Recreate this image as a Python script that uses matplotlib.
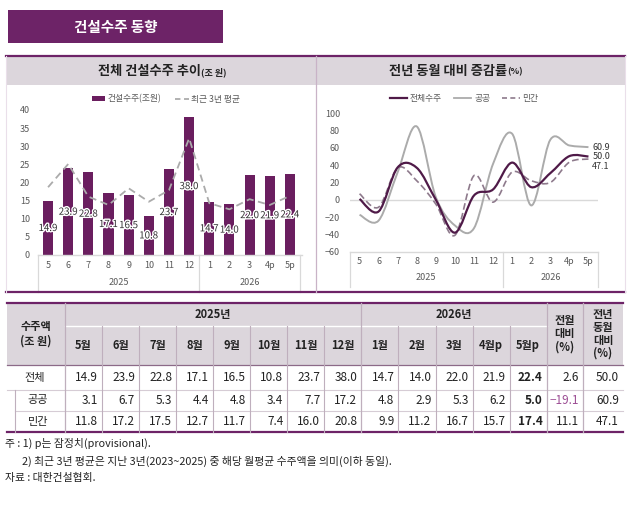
import numpy as np
import matplotlib
matplotlib.use("Agg")
import matplotlib.pyplot as plt
from matplotlib.patches import Rectangle, Patch, PathPatch
from matplotlib.lines import Line2D
from matplotlib.path import Path
import matplotlib.patheffects as pe

plt.rcParams["font.family"] = ["Noto Sans CJK KR", "DejaVu Sans"]
plt.rcParams["axes.unicode_minus"] = True

# ---- data ----
months = ["5", "6", "7", "8", "9", "10", "11", "12", "1", "2", "3", "4p", "5p"]
years = ["2025", "2026"]
total = [14.9, 23.9, 22.8, 17.1, 16.5, 10.8, 23.7, 38.0, 14.7, 14.0, 22.0, 21.9, 22.4]
avg3y = [18.7, 25.1, 16.1, 13.8, 18.4, 14.7, 17.9, 32.2, 14.3, 12.6, 15.4, 13.8, 16.3]

yoy_total = [1.0, -13.5, 37.5, 37.0, 0.0, -38.0, 5.0, 12.0, 43.0, 14.6, 30.8, 50.5, 50.0]
yoy_public = [-17.3, -24.0, 32.0, 84.8, 3.0, -29.7, -32.8, 41.6, 76.3, -6.5, 69.4, 62.8, 60.9]
yoy_private = [7.0, -8.5, 37.0, 22.0, -5.0, -41.0, 28.0, -2.7, 32.0, 22.0, 20.0, 43.5, 47.1]

tbl_months = ["5월", "6월", "7월", "8월", "9월", "10월", "11월", "12월",
              "1월", "2월", "3월", "4월p", "5월p"]
row_names = ["전체", "공공", "민간"]
tbl_total = [14.9, 23.9, 22.8, 17.1, 16.5, 10.8, 23.7, 38.0, 14.7, 14.0, 22.0, 21.9, 22.4]
tbl_public = [3.1, 6.7, 5.3, 4.4, 4.8, 3.4, 7.7, 17.2, 4.8, 2.9, 5.3, 6.2, 5.0]
tbl_private = [11.8, 17.2, 17.5, 12.7, 11.7, 7.4, 16.0, 20.8, 9.9, 11.2, 16.7, 15.7, 17.4]
mom = [2.6, -19.1, 11.1]
yoy_last = [50.0, 60.9, 47.1]

PURPLE = "#6D2367"
BAR = "#6A1E5F"
HEAD = "#DCD6DC"
GRID = "#D9D9D9"
TXT = "#595959"

W, H = 630, 516
fig = plt.figure(figsize=(W / 100, H / 100), dpi=100)


def X(px):
    return px / W


def Y(py):
    return 1 - py / H


def frect(x0, y0, x1, y1, **kw):
    fig.add_artist(Rectangle((X(x0), Y(y1)), (x1 - x0) / W, (y1 - y0) / H,
                             transform=fig.transFigure, **kw))


def fline(xs, ys, **kw):
    fig.add_artist(Line2D([X(v) for v in xs], [Y(v) for v in ys],
                          transform=fig.transFigure, **kw))


def ftext(x, y, s, **kw):
    fig.text(X(x), Y(y), s, **kw)


def smooth_path(xs, ys):
    # excel-like smoothed line: bezier segments through the data points
    pts = np.column_stack([xs, ys]).astype(float)
    n = len(pts)
    verts = [pts[0]]
    codes = [Path.MOVETO]
    for i in range(n - 1):
        p0 = pts[max(i - 1, 0)]
        p1 = pts[i]
        p2 = pts[i + 1]
        p3 = pts[min(i + 2, n - 1)]
        verts += [p1 + (p2 - p0) / 6, p2 - (p3 - p1) / 6, p2]
        codes += [Path.CURVE4] * 3
    return Path(verts, codes)


# ---- title & panel frame ----
frect(8, 10, 223, 43, facecolor=PURPLE, edgecolor="none")
ftext(116, 27, "건설수주 동향", color="white", fontsize=10.5, fontweight="bold",
      ha="center", va="center")

frect(6, 56, 625, 85, facecolor=HEAD, edgecolor="none")
fline([6, 625], [55.5, 55.5], color=PURPLE, lw=1.6)
fline([6, 625], [292, 292], color=PURPLE, lw=1.6)
fline([316, 316], [56, 292], color="#C9B3C7", lw=0.9)
fline([6, 6], [56, 292], color="#EADFEA", lw=0.8)
fline([625, 625], [56, 292], color="#EADFEA", lw=0.8)

ftext(201, 71, "전체 건설수주 추이", fontsize=9.5, fontweight="bold", ha="right",
      va="center", color="#222222")
ftext(201, 72, "(조 원)", fontsize=6.5, fontweight="bold", ha="left", va="center",
      color="#222222")
ftext(507, 71, "전년 동월 대비 증감률", fontsize=9.5, fontweight="bold", ha="right",
      va="center", color="#222222")
ftext(507, 72, "(%)", fontsize=6.5, fontweight="bold", ha="left", va="center",
      color="#222222")

x = np.arange(len(months))

# ---- left chart ----
ax1 = fig.add_axes([X(38), Y(255), 264 / W, 145 / H])
ax1.bar(x, total, width=0.5, color=BAR, zorder=2)
ax1.plot(x, avg3y, color="#ABABAB", lw=1.3, dashes=(4, 2.5), zorder=3)
for xi, v in zip(x, total):
    ax1.text(xi, v / 2, f"{v:.1f}", ha="center", va="center", fontsize=7,
             color="#333333", zorder=4,
             path_effects=[pe.withStroke(linewidth=2, foreground="white")])
ax1.set_xlim(-0.5, 12.6)
ax1.set_ylim(0, 40)
ax1.set_yticks(range(0, 41, 5))

# ---- right chart ----
ax2 = fig.add_axes([X(350), Y(251.7), 248 / W, 138.4 / H])
ax2.axhline(0, color=GRID, lw=1.0, zorder=1)
ax2.add_patch(PathPatch(smooth_path(x, yoy_public), fill=False,
                        edgecolor="#ABABAB", lw=1.4, zorder=2))
ax2.add_patch(PathPatch(smooth_path(x, yoy_private), fill=False,
                        edgecolor="#8E7A8C", lw=1.2, linestyle=(0, (4, 2)), zorder=3))
ax2.add_patch(PathPatch(smooth_path(x, yoy_total), fill=False,
                        edgecolor="#4F1A48", lw=1.6, zorder=4))
ax2.set_xlim(-0.5, 12.5)
ax2.set_ylim(-60, 100)
ax2.set_yticks(range(-60, 101, 20))
for v, yy in zip([yoy_public[-1], yoy_total[-1], yoy_private[-1]], [60.9, 49.5, 39.0]):
    ax2.text(12.2, yy, f"{v:.1f}", fontsize=6.5, color="#333333", va="center",
             ha="left", clip_on=False)

for ax, ypad, yyear, ysep in [(ax1, 8, -0.19, -0.255), (ax2, 10, -0.19, -0.255)]:
    for s in ["top", "right", "left"]:
        ax.spines[s].set_visible(False)
    ax.spines["bottom"].set_color(GRID)
    ax.spines["bottom"].set_linewidth(1.0)
    ax.set_xticks(x)
    ax.set_xticklabels(months)
    ax.tick_params(length=0, labelsize=6.5, labelcolor=TXT)
    ax.tick_params(axis="x", pad=4)
    ax.tick_params(axis="y", pad=ypad * 0.72)
    tr = ax.get_xaxis_transform()
    ax.text(3.5, yyear, years[0], transform=tr, ha="center", va="center",
            fontsize=6.5, color=TXT)
    ax.text(10, yyear, years[1], transform=tr, ha="center", va="center",
            fontsize=6.5, color=TXT)
    for xs in [-0.5, 7.5, 12.5]:
        ax.plot([xs, xs], [0, ysep], transform=tr, color=GRID, lw=0.9, clip_on=False)
    ax.patch.set_alpha(0)

# legends
h1 = [Patch(facecolor=BAR, edgecolor="none"),
      Line2D([], [], color="#ABABAB", lw=1.3, dashes=(3, 2))]
fig.legend(h1, ["건설수주(조원)", "최근 3년 평균"], loc="center",
           bbox_to_anchor=(X(166), Y(99)), ncol=2, frameon=False, fontsize=6.3,
           handlelength=1.5, handleheight=0.5, handletextpad=0.3,
           columnspacing=1.6, labelcolor=TXT)
h2 = [Line2D([], [], color="#4F1A48", lw=1.6),
      Line2D([], [], color="#ABABAB", lw=1.3),
      Line2D([], [], color="#8E7A8C", lw=1.2, dashes=(3, 2))]
fig.legend(h2, ["전체수주", "공공", "민간"], loc="center",
           bbox_to_anchor=(X(464), Y(99)), ncol=3, frameon=False, fontsize=6.3,
           handlelength=2.0, handletextpad=0.3, columnspacing=1.4, labelcolor=TXT)

# ---- table ----
c0, cw = 65, 37.05
edges = [c0 + i * cw for i in range(14)]
c_mom, c_yoy, c_end = edges[-1], 583, 623
ry = [303, 326, 365, 390, 411, 432]
LINE = "#BFAFBD"

frect(7, ry[0], c_end, ry[2], facecolor=HEAD, edgecolor="none")
fline([7, c_end], [ry[0], ry[0]], color=PURPLE, lw=1.6)
fline([7, c_end], [ry[5], ry[5]], color=PURPLE, lw=1.6)
fline([c0, c_mom], [ry[1], ry[1]], color="white", lw=1.0)
fline([7, c_end], [ry[2], ry[2]], color="#8C6A88", lw=0.9)
fline([7, c_end], [ry[3], ry[3]], color="#D6CCD5", lw=0.8)
fline([15, c_end], [ry[4], ry[4]], color="#D6CCD5", lw=0.8)
fline([15, 15], [ry[3], ry[5]], color=LINE, lw=0.8)
for xe in [c0, edges[8], c_mom, c_yoy]:
    fline([xe, xe], [ry[0], ry[5]], color=LINE, lw=0.9)
for i in range(1, 13):
    if i == 8:
        continue
    fline([edges[i], edges[i]], [ry[1], ry[5]], color=LINE, lw=0.8)

ftext(36, 334, "수주액\n(조 원)", fontsize=8, fontweight="bold", ha="center",
      va="center", linespacing=1.15, color="#222222")
ftext((edges[0] + edges[8]) / 2, 314.5, "2025년", fontsize=8, fontweight="bold",
      ha="center", va="center", color="#222222")
ftext((edges[8] + edges[13]) / 2, 314.5, "2026년", fontsize=8, fontweight="bold",
      ha="center", va="center", color="#222222")
for i, m in enumerate(tbl_months):
    ftext(edges[i] + cw / 2, 346, m, fontsize=8, fontweight="bold", ha="center",
          va="center", color="#222222")
ftext((c_mom + c_yoy) / 2, 334, "전월\n대비\n(%)", fontsize=8, fontweight="bold",
      ha="center", va="center", linespacing=1.05, color="#222222")
ftext((c_yoy + c_end) / 2, 334, "전년\n동월\n대비\n(%)", fontsize=8,
      fontweight="bold", ha="center", va="center", linespacing=0.98, color="#222222")

rows = [tbl_total, tbl_public, tbl_private]
for r, (name, vals) in enumerate(zip(row_names, rows)):
    yc = (ry[2 + r] + ry[3 + r]) / 2
    ftext(35 if r == 0 else 38, yc, name, fontsize=8, ha="center", va="center",
          color="#222222")
    for i, v in enumerate(vals):
        ftext(edges[i + 1] - 4, yc, f"{v:.1f}", fontsize=8.5, ha="right",
              va="center", color="#222222",
              fontweight="bold" if i == 12 else "normal")
    mv = mom[r]
    ftext(c_yoy - 4, yc, f"{mv:.1f}".replace("-", "\u2212"), fontsize=8.5,
          ha="right", va="center", color="#9C4E94" if mv < 0 else "#222222")
    ftext(c_end - 4, yc, f"{yoy_last[r]:.1f}", fontsize=8.5, ha="right",
          va="center", color="#222222")

# ---- notes ----
ftext(5, 443, "주 : 1) p는 잠정치(provisional).", fontsize=7.8, va="center",
      color="#222222")
ftext(22, 461, "2) 최근 3년 평균은 지난 3년(2023~2025) 중 해당 월평균 수주액을 의미(이하 동일).",
      fontsize=7.8, va="center", color="#222222")
ftext(5, 478, "자료 : 대한건설협회.", fontsize=7.8, va="center", color="#222222")

fig.savefig("out.png", dpi=100)
